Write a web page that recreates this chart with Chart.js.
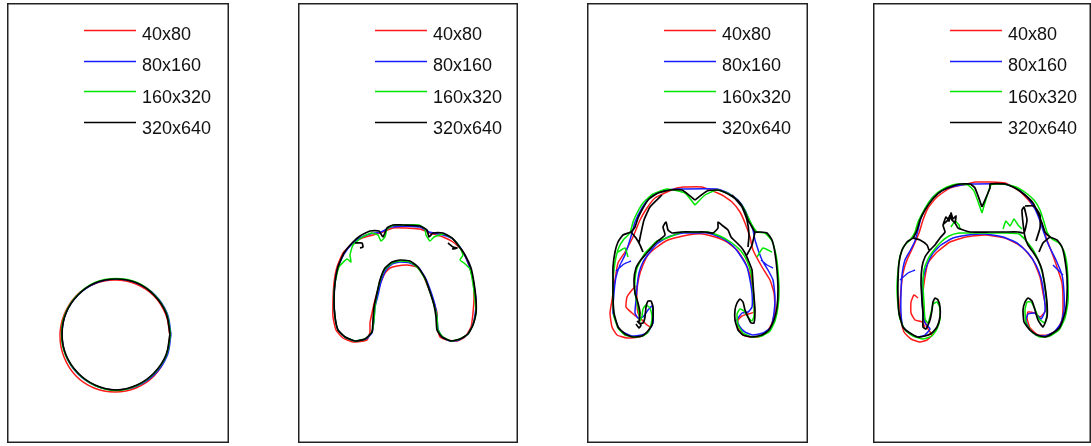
<!DOCTYPE html>
<html>
<head>
<meta charset="utf-8">
<script src="https://cdn.jsdelivr.net/npm/chart.js@4.4.0/dist/chart.umd.min.js"></script>
<style>
  html, body { margin: 0; padding: 0; background: #fff; overflow: hidden; width: 1091px; height: 446px; }
  canvas { position: absolute; top: 3px; }
</style>
</head>
<body>
<script>
// grid resolutions shown in every panel
const labels = ['40x80', '80x160', '160x320', '320x640'];

// interface contours, grid units: x 0..220 across, y 0..440 from the top
// each contour is a list of polylines

// panel 1 - initial bubble
const t1_40x80 = [[[163,333],[159,312],[147,293],[129,281],[108,277],[87,281],[69,293],[57,312],[53,333],[57,354],[69,373],[87,385],[108,389],[129,385],[147,373],[159,354],[163,333]]];
const t1_80x160 = [[[164,331.5],[160,310],[148,292],[130,280],[109.5,276],[89,280],[71,292],[59,310],[55,331.5],[59,353],[71,371],[89,383],[109.5,387],[130,383],[148,371],[160,353],[164,331.5]]];
const t1_160x320 = [[[163.5,331],[159.5,310],[147.5,292],[130,279.5],[109,275.5],[88,279.5],[70.5,292],[58.5,310],[54.5,331],[58.5,352],[70.5,370],[88,382.5],[109,387.5],[130,382.5],[147.5,370],[159.5,352],[163.5,331]]];
const t1_320x640 = [[[163,331],[159,310],[147,292],[130,280],[109,276],[88,280],[71,292],[59,310],[55,331],[59,352],[71,370],[88,382],[109,387],[130,382],[147,370],[159,352],[163,331]]];

// panel 2
const t2_40x80 = [[[109,225],[122,226],[132,230],[145,234],[155,239],[164,247],[170,260],[175,277],[176,294],[175,310],[173,324],[167,334],[159,338],[149,337],[142,334],[139,324],[139,310],[135,297],[130,284],[125,272],[119,264],[109,262],[99,263],[92,265],[87,270],[81,284],[77,297],[74,310],[72,320],[72,329],[69,337],[55,339],[45,335],[38,327],[35,314],[35,297],[36,280],[39,264],[45,250],[54,241],[64,235],[75,232],[85,229],[95,225],[109,225]]];
const t2_80x160 = [[[107,223],[122,224],[131,229],[145,232],[155,236],[162,244],[168,255],[173,268],[176,282],[178,298],[177,312],[174,324],[169,332],[161,337],[152,338],[144,334],[140,326],[139,314],[137,302],[133,289],[128,276],[121,265],[112,260],[102,259],[94,261],[88,267],[83,279],[80,292],[77,304],[76,317],[74,330],[68,336],[57,338],[47,334],[40,327],[37,314],[36,297],[37,280],[40,264],[46,251],[54,241],[62,235],[72,231],[83,229],[93,224],[107,223]]];
const t2_160x320 = [[[104,222],[121,222],[127,226],[128,232],[132,238],[136,234],[146,231],[155,236],[161,243],[165,252],[162,257],[166,260],[172,266],[175,281],[177,297],[178,310],[175,322],[170,331],[162,336],[153,338],[145,334],[140,327],[139,314],[136,302],[132,289],[127,276],[120,265],[112,259],[102,258],[94,260],[87,266],[82,278],[79,291],[77,304],[76,317],[74,329],[67,336],[57,338],[47,334],[40,327],[37,314],[36,297],[37,280],[41,264],[49,256],[53,259],[52,252],[55,242],[63,235],[73,230],[80,232],[83,238],[87,234],[89,226],[96,222],[104,222]]];
const t2_320x640 = [
  [[105,222],[122,223],[129,227],[131,234],[135,230],[145,230],[154,235],[160,242],[167,252],[173,265],[176,280],[178,297],[178,310],[175,322],[170,331],[162,336],[153,338],[144,334],[139,327],[138,314],[136,302],[132,289],[127,275],[120,264],[112,258],[102,257],[94,259],[87,265],[82,277],[79,290],[76,304],[75,317],[74,329],[67,336],[57,338],[47,334],[40,327],[37,314],[36,297],[37,280],[40,264],[46,250],[54,240],[62,233],[72,228],[81,228],[85,234],[89,225],[95,222],[105,222]],
  [[57,240],[64,240],[65,244],[62,245]],
  [[150,240],[155,244],[159,245],[154,246]]
];

// panel 3
const t3_40x80 = [
  [[96,184],[115,184],[135,192],[145,199],[153,209],[158,220],[163,234],[166,247],[175,264],[183,277],[187,290],[188,307],[185,320],[180,329],[171,334],[163,334],[156,332],[151,325],[151,317],[155,313],[161,311],[167,309],[167,300],[166,287],[163,272],[158,259],[150,247],[140,239],[128,234],[116,231],[108,231],[96,233],[81,237],[70,244],[61,252],[56,262],[52,274],[50,287],[50,300],[51,310],[55,317],[60,322],[63,324],[60,330],[53,334],[40,335],[30,332],[25,324],[23,310],[25,297],[28,277],[31,260],[38,249],[46,234],[53,217],[60,205],[68,195],[80,189],[90,185],[96,184]],
  [[49,283],[45,287],[40,294],[39,304],[45,310],[51,315]]
];
const t3_80x160 = [
  [[90,186],[130,186],[141,190],[151,197],[158,207],[163,219],[166,227],[168,237],[175,257],[181,267],[186,277],[188,294],[187,310],[184,324],[176,330],[166,332],[158,329],[153,324],[150,317],[155,310],[161,309],[165,304],[165,290],[163,277],[160,264],[153,252],[145,242],[135,235],[121,230],[108,230],[96,230],[81,234],[71,240],[63,249],[56,259],[52,270],[50,284],[49,297],[48,310],[51,315],[56,314],[61,307],[65,303],[66,310],[66,320],[61,329],[55,332],[45,333],[33,327],[26,310],[27,290],[29,274],[33,262],[38,252],[42,240],[45,230],[48,219],[55,205],[63,194],[75,188],[90,186]],
  [[29,268],[37,261],[44,258]],
  [[174,257],[180,262],[186,265]]
];
const t3_160x320 = [
  [[108,202],[98,190],[80,186],[66,191],[56,200],[50,210],[46,219],[43,230],[37,236],[32,244],[29,254],[27,267],[26,280],[26,297],[27,313],[31,325],[38,332],[47,334],[56,333],[61,329],[64,322],[65,313],[63,305],[59,302],[56,306],[55,313],[53,318],[52,310],[50,300],[48,290],[48,277],[50,265],[54,257],[58,250],[63,245],[70,238],[80,235],[95,229],[108,229],[121,229],[133,233],[145,240],[154,248],[160,258],[164,270],[166,285],[167,300],[167,313],[165,318],[161,314],[157,308],[153,306],[150,311],[151,322],[156,330],[165,334],[175,333],[183,328],[188,318],[191,304],[192,288],[191,268],[189,252],[185,238],[178,230],[170,229],[165,222],[161,214],[156,204],[149,196],[140,190],[130,187],[118,192],[108,202]],
  [[31,249],[38,245],[41,254]],
  [[170,254],[176,245],[185,249]]
];
const t3_320x640 = [
  [[108,197],[95,187],[83,187],[71,190],[62,196],[56,205],[51,215],[48,224],[44,229],[36,232],[31,239],[28,249],[26,264],[26,277],[26,294],[27,310],[31,324],[38,331],[46,334],[55,333],[60,329],[65,322],[66,314],[66,304],[64,298],[61,298],[59,304],[58,314],[56,320],[52,320],[53,310],[51,300],[48,290],[47,277],[49,265],[53,258],[59,251],[65,244],[71,238],[78,232],[76,224],[79,219],[81,227],[85,230],[95,229],[108,229],[118,229],[126,230],[131,225],[131,219],[136,223],[141,227],[144,234],[149,239],[154,244],[158,250],[162,259],[165,267],[166,280],[167,294],[168,307],[167,320],[164,320],[161,314],[158,307],[156,299],[153,296],[150,300],[148,307],[148,317],[151,327],[156,332],[165,334],[175,332],[182,327],[187,317],[190,304],[191,287],[190,267],[188,250],[185,237],[180,230],[173,229],[168,229],[165,224],[161,217],[158,209],[153,200],[146,194],[137,189],[130,187],[120,188],[108,197]],
  [[44,229],[49,235],[53,242],[56,249]],
  [[52,240],[54,230],[57,217],[63,204],[75,192]],
  [[168,229],[165,242],[160,252]],
  [[145,192],[155,204],[160,217],[162,232],[161,244]],
  [[50,318],[54,322],[52,325],[49,321]]
];

// panel 4
const t4_40x80 = [
  [[102,179],[117,179],[132,180],[145,187],[157,199],[164,209],[169,222],[174,237],[179,250],[184,264],[189,280],[190,300],[189,317],[184,327],[175,332],[165,332],[157,325],[154,315],[155,309],[162,310],[167,314],[173,307],[170,290],[167,274],[160,257],[149,244],[132,235],[112,232],[93,234],[77,239],[64,249],[55,260],[52,274],[50,290],[50,307],[52,318],[55,326],[59,332],[54,337],[47,339],[38,336],[31,329],[28,317],[27,304],[28,287],[30,270],[34,257],[40,244],[46,230],[50,217],[55,205],[64,194],[77,185],[94,181],[102,179]],
  [[52,324],[49,319],[42,317],[38,310],[38,299],[41,292],[45,295]]
];
const t4_80x160 = [
  [[95,181],[132,181],[145,186],[155,195],[162,206],[167,218],[171,230],[176,243],[183,257],[189,272],[191,290],[191,307],[188,320],[181,329],[172,333],[163,332],[157,327],[153,318],[155,311],[162,310],[168,316],[172,308],[171,292],[168,275],[163,262],[155,250],[144,240],[130,234],[112,231],[95,232],[80,235],[68,242],[60,250],[54,262],[50,277],[49,294],[50,310],[52,320],[57,326],[52,332],[45,334],[37,331],[30,324],[28,310],[28,290],[29,272],[32,257],[37,248],[42,238],[45,227],[48,215],[54,203],[60,194],[70,187],[82,183],[95,181]],
  [[27,277],[35,270],[42,267]],
  [[180,262],[186,268],[190,272]]
];
const t4_160x320 = [
  [[109,210],[101,188],[95,182],[84,181],[74,184],[64,190],[56,199],[50,209],[45,219],[42,229],[37,237],[31,243],[27,253],[25,268],[24,285],[25,302],[27,316],[32,327],[40,333],[50,336],[59,333],[64,326],[67,316],[67,305],[64,299],[60,301],[58,310],[55,320],[52,316],[51,300],[50,283],[51,267],[55,256],[61,247],[68,239],[76,233],[86,230],[97,230],[117,230],[132,230],[146,231],[155,240],[162,250],[167,262],[171,277],[173,293],[174,310],[172,320],[166,316],[162,306],[158,299],[154,299],[152,307],[153,320],[159,329],[167,334],[177,333],[186,327],[192,315],[195,299],[195,280],[194,262],[191,248],[186,240],[179,236],[174,229],[171,219],[167,207],[161,197],[153,190],[143,184],[130,181],[118,182],[109,210]],
  [[78,224],[82,218],[86,222],[87,226]],
  [[130,226],[133,218],[137,223],[141,216],[145,222],[149,226]]
];
const t4_320x640 = [
  [[109,204],[102,185],[97,181],[87,181],[77,184],[67,189],[59,197],[52,207],[47,217],[44,227],[40,235],[34,239],[29,247],[26,260],[25,277],[25,294],[26,310],[30,324],[37,330],[45,334],[52,333],[59,330],[64,324],[67,314],[67,304],[65,297],[62,295],[60,299],[59,307],[57,317],[53,326],[50,324],[50,310],[49,297],[48,280],[49,264],[52,254],[57,247],[62,242],[67,235],[72,229],[70,222],[75,217],[77,212],[79,217],[82,220],[85,225],[97,229],[117,229],[132,229],[145,229],[151,230],[154,217],[151,204],[149,207],[150,220],[152,234],[155,242],[160,249],[165,257],[169,267],[172,284],[174,300],[174,314],[170,324],[165,317],[162,307],[159,298],[155,295],[152,299],[150,307],[151,319],[157,327],[164,332],[172,334],[180,330],[187,324],[192,310],[194,294],[194,274],[192,257],[189,244],[184,237],[177,234],[172,229],[169,220],[165,210],[160,200],[152,192],[142,185],[132,181],[117,181],[117,185],[109,204]],
  [[40,235],[47,237],[54,242],[56,247]],
  [[70,222],[73,214],[76,218],[78,210],[80,216],[83,213],[82,221]],
  [[152,203],[161,203],[167,212],[167,225],[163,238]],
  [[177,234],[170,240],[166,249]]
];

const panels = [
  { left: 7,   width: 222, tension: 0.4,  curves: [t1_40x80, t1_80x160, t1_160x320, t1_320x640] },
  { left: 298, width: 220, tension: 0.15, curves: [t2_40x80, t2_80x160, t2_160x320, t2_320x640] },
  { left: 587, width: 221, tension: 0.15, curves: [t3_40x80, t3_80x160, t3_160x320, t3_320x640] },
  { left: 873, width: 218, tension: 0.15, curves: [t4_40x80, t4_80x160, t4_160x320, t4_320x640] }
];

const colors = ['#ff1a1a', '#1a1aff', '#00e600', '#000000'];

// polylines -> one dataset, null points break the line
function toPoints(polys) {
  const out = [];
  polys.forEach((poly, i) => {
    if (i) out.push({ x: null, y: null });
    poly.forEach(p => out.push({ x: p[0], y: p[1] }));
  });
  return out;
}

const framePlugin = {
  id: 'frame',
  afterDraw(chart) {
    const { ctx, chartArea: a } = chart;
    ctx.save();
    ctx.strokeStyle = '#222';
    ctx.lineWidth = 1.5;
    ctx.strokeRect(a.left + 0.75, a.top + 0.75, a.right - a.left - 1.5, a.bottom - a.top - 1.5);
    ctx.restore();
  }
};

// legend sits inside the plot, upper right
const insideLegend = {
  id: 'insideLegend',
  afterDatasetsDraw(chart) {
    const { ctx, chartArea: a } = chart;
    ctx.save();
    ctx.font = '18px "Liberation Sans", Arial, sans-serif';
    ctx.textBaseline = 'alphabetic';
    chart.data.datasets.forEach((ds, i) => {
      const y = Math.round(a.top + 27 + 30.6 * i) + 0.5;
      ctx.strokeStyle = ds.borderColor;
      ctx.lineWidth = 1.5;
      ctx.beginPath();
      ctx.moveTo(a.left + 77, y);
      ctx.lineTo(a.left + 129, y);
      ctx.stroke();
      ctx.fillStyle = '#111';
      ctx.fillText(ds.label, a.left + 135, a.top + 36.5 + 31.5 * i);
    });
    ctx.restore();
  }
};

panels.forEach((p, n) => {
  const canvas = document.createElement('canvas');
  canvas.id = 'panel' + n;
  canvas.style.left = p.left + 'px';
  canvas.width = p.width;
  canvas.height = 440;
  document.body.appendChild(canvas);

  const datasets = p.curves.map((c, i) => ({
    label: labels[i],
    data: toPoints(c),
    showLine: true,
    borderColor: colors[i],
    backgroundColor: colors[i],
    borderWidth: i === 3 ? 1.7 : 1.5,
    pointRadius: 0,
    tension: p.tension,
    spanGaps: false,
    order: 3 - i
  }));

  new Chart(canvas.getContext('2d'), {
    type: 'scatter',
    data: { datasets },
    options: {
      responsive: false,
      animation: false,
      events: [],
      layout: { padding: 0 },
      scales: {
        x: { type: 'linear', min: 0, max: p.width, display: false },
        y: { type: 'linear', min: 0, max: 440, reverse: true, display: false }
      },
      plugins: { legend: { display: false }, tooltip: { enabled: false } }
    },
    plugins: [framePlugin, insideLegend]
  });
});
</script>
</body>
</html>
